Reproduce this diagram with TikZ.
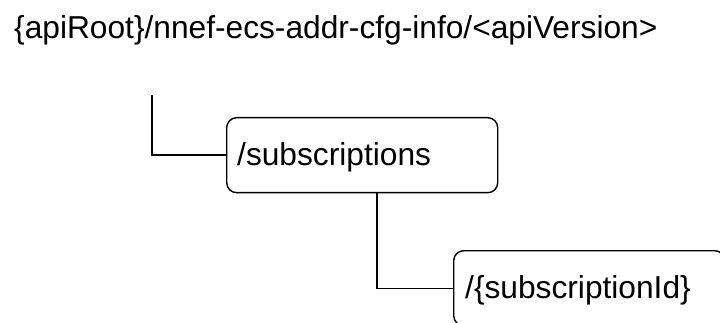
\documentclass[tikz,border=0pt]{standalone}
\usepackage{fontspec}
\setmainfont{Liberation Sans}
\begin{document}
\begin{tikzpicture}[x=1pt,y=-1pt,
  conn/.style={draw=black,line width=1.4pt},
  resbox/.style={draw=black,line width=1.4pt,rounded corners=10pt,
    minimum width=271pt,minimum height=75pt,anchor=north west,
    inner sep=0pt},
  lbl/.style={inner sep=0pt,font=\fontsize{31.7}{36}\selectfont}]
\useasboundingbox (0,0) rectangle (720,323);
\node[lbl,anchor=base west] (root) at (14,39) {\{apiRoot\}/nnef-ecs-addr-cfg-info/<apiVersion>};
\node[resbox] (subs) at (226,117) {};
\node[lbl,anchor=base west] (subst) at ([xshift=11pt,yshift=-49pt]subs.north west) {/subscriptions};
\node[resbox] (sid) at (453,250) {};
\node[lbl,anchor=base west] (sidt) at ([xshift=12pt,yshift=-48pt]sid.north west) {/\{subscriptionId\}};
\coordinate (r1) at (152,95);
\coordinate (s1) at (377,192);
\draw[conn] (r1) |- (subs.west);
\draw[conn] (s1) |- (sid.west);
\end{tikzpicture}
\end{document}
